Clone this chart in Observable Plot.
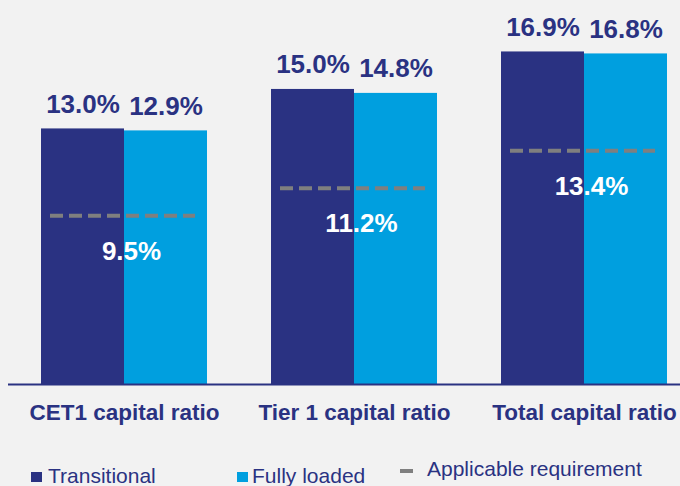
<!DOCTYPE html>
<html><head><meta charset="utf-8">
<script src="https://cdn.jsdelivr.net/npm/d3@7"></script>
<script src="https://cdn.jsdelivr.net/npm/@observablehq/plot@0.6"></script>
<style>
body{margin:0;background:#f2f2f2;}
#wrap{position:relative;width:680px;height:486px;background:#f2f2f2;overflow:hidden;font-family:"Liberation Sans",Arial,sans-serif;}
#wrap svg{position:absolute;left:0;top:0;}
.leg{position:absolute;font-size:21px;line-height:21px;color:#2a3282;white-space:nowrap;}
.sw{position:absolute;}
</style></head><body><div id="wrap"></div>
<script>
const categories = ["CET1 capital ratio", "Tier 1 capital ratio", "Total capital ratio"];
const seriesNames = ["Transitional", "Fully loaded"];
const transitional = [13.0, 15.0, 16.9];
const fullyLoaded = [12.9, 14.8, 16.8];
const requirementLabels = [9.5, 11.2, 13.4];
const requirementDrawn = [8.6, 10.0, 11.9]; // where the dashed markers sit in the picture
const legendItems = ["Transitional", "Fully loaded", "Applicable requirement"];

const NAVY = "#2a3282", CYAN = "#009fdf", GRAY = "#7f7f7f";
const fmt = v => v.toFixed(1) + "%";

const rows = categories.flatMap((c, i) => [
  {category: c, series: seriesNames[0], value: transitional[i]},
  {category: c, series: seriesNames[1], value: fullyLoaded[i]}
]);
const reqRows = categories.map((c, i) => ({category: c, drawn: requirementDrawn[i], label: requirementLabels[i]}));

const plot = Plot.plot({
  width: 680, height: 450,
  marginLeft: 41, marginRight: 13, marginTop: 10, marginBottom: 65,
  style: {background: "transparent", fontFamily: "'Liberation Sans', Arial, sans-serif"},
  fx: {domain: categories, paddingInner: 0.28, paddingOuter: 0, axis: null},
  x: {domain: seriesNames, padding: 0, axis: null},
  y: {domain: [0, 19], axis: null},
  color: {domain: seriesNames, range: [NAVY, CYAN]},
  marks: [
    Plot.barY(rows, {fx: "category", x: "series", y: "value", fill: "series"}),
    Plot.text(rows, {fx: "category", x: "series", y: "value", text: d => fmt(d.value),
      lineAnchor: "bottom", dy: -16, fill: NAVY, fontSize: 26, fontWeight: "bold"}),
    Plot.ruleY(reqRows, {fx: "category", y: "drawn", stroke: GRAY, strokeWidth: 4,
      strokeDasharray: "13,6", insetLeft: 9, insetRight: 12}),
    Plot.text(reqRows, {fx: "category", y: "drawn", text: d => fmt(d.label), frameAnchor: "middle",
      lineAnchor: "bottom", dy: 44, dx: 7, fill: "white", fontSize: 26, fontWeight: "bold"}),
    Plot.text(categories, {fx: d => d, text: d => d, frameAnchor: "bottom", lineAnchor: "bottom",
      dy: 34, fill: NAVY, fontSize: 22.5, fontWeight: "bold"})
  ]
});

const y0 = plot.scale("y").apply(0);
d3.select(plot).append("line")
  .attr("x1", 8).attr("x2", 680).attr("y1", y0 - 0.5).attr("y2", y0 - 0.5)
  .attr("stroke", NAVY).attr("stroke-width", 2);

const wrap = document.getElementById("wrap");
wrap.appendChild(plot);

function addBox(left, top, w, h, color) {
  const d = document.createElement("div");
  d.className = "sw";
  Object.assign(d.style, {left: left + "px", top: top + "px", width: w + "px", height: h + "px", background: color});
  wrap.appendChild(d);
}
function addText(left, top, txt) {
  const d = document.createElement("div");
  d.className = "leg";
  d.style.left = left + "px"; d.style.top = top + "px";
  d.textContent = txt;
  wrap.appendChild(d);
}
addBox(31, 472, 11, 10, NAVY);
addText(48, 465, legendItems[0]);
addBox(237, 472, 11, 10, CYAN);
addText(252, 465, legendItems[1]);
addBox(400, 469, 13, 4, GRAY);
addText(427, 458, legendItems[2]);
</script></body></html>
